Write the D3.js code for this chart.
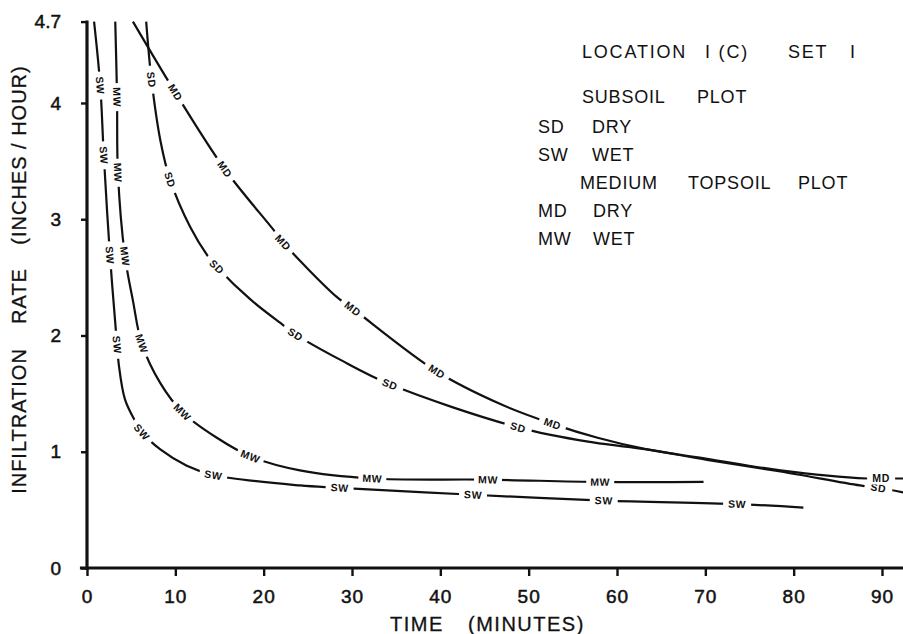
<!DOCTYPE html>
<html>
<head>
<meta charset="utf-8">
<script src="https://cdn.jsdelivr.net/npm/d3@7/dist/d3.min.js"></script>
<style>
  body { margin: 0; background: #fff; }
  svg text { font-family: "Liberation Sans", Arial, sans-serif; fill: #111; }
</style>
</head>
<body>
<script>
// tick values
const xTicks = [0, 10, 20, 30, 40, 50, 60, 70, 80, 90];
const yTicks = [0, 1, 2, 3, 4, 4.7];
const yTickLabels = ['0', '1', '2', '3', '4', '4.7'];

// subsoil wet
const swTime = [0.8, 1.5, 1.9, 2.6, 3.4, 3.6, 4.3, 5.4, 6.2, 8.3, 11.3, 14.3, 24.1, 28.6, 43.7, 58.5, 73.6, 81.1];
const swRate = [4.7, 4.15, 3.55, 2.69, 1.92, 1.75, 1.45, 1.27, 1.17, 1.02, 0.88, 0.80, 0.71, 0.69, 0.63, 0.58, 0.55, 0.52];
const swLabels = [1.5, 1.9, 2.6, 3.4, 6.2, 14.3, 28.6, 43.7, 58.5, 73.6];

// medium topsoil wet
const mwTime = [3.2, 3.4, 3.5, 4.3, 5.2, 6.2, 8.3, 10.8, 14.7, 18.5, 24.1, 32.3, 45.4, 58.1, 69.8];
const mwRate = [4.7, 4.05, 3.4, 2.68, 2.3, 1.93, 1.59, 1.34, 1.12, 0.96, 0.84, 0.77, 0.76, 0.74, 0.74];
const mwLabels = [3.4, 3.5, 4.3, 6.2, 10.8, 18.5, 32.3, 45.4, 58.1];

// subsoil dry
const sdTime = [6.7, 7.3, 8.3, 9.4, 11.7, 13.7, 14.7, 18.5, 22.2, 23.6, 28.7, 34.3, 48.8, 57.3, 63.4, 70.2, 78.5, 87.5, 89.6, 92.4];
const sdRate = [4.7, 4.2, 3.68, 3.34, 2.93, 2.68, 2.59, 2.31, 2.09, 2.01, 1.79, 1.58, 1.21, 1.08, 1.02, 0.93, 0.83, 0.71, 0.69, 0.65];
const sdLabels = [7.3, 9.4, 14.7, 23.6, 34.3, 48.8, 89.6];

// medium topsoil dry
const mdTime = [5.2, 10.0, 15.6, 21.1, 22.2, 28.3, 30.1, 39.6, 46.8, 52.7, 57.8, 63.4, 70.2, 78.5, 88.3, 89.9, 92.4];
const mdRate = [4.7, 4.09, 3.43, 2.91, 2.80, 2.33, 2.23, 1.69, 1.41, 1.24, 1.12, 1.02, 0.94, 0.84, 0.77, 0.77, 0.77];
const mdLabels = [10.0, 15.6, 22.2, 30.1, 39.6, 52.7, 89.9];

const width = 903;
const height = 634;

let svg = d3.select('body').append('svg')
  .attr('width', width)
  .attr('height', height);

const x = d3.scaleLinear().domain([0, 90]).range([87, 882]);
const y = d3.scaleLinear().domain([0, 4.7]).range([568, 21.6]);

const ink = '#111';

// axis lines
svg.append('line')
  .attr('x1', x(-0.8)).attr('x2', width)
  .attr('y1', y(0)).attr('y2', y(0))
  .attr('stroke', ink).attr('stroke-width', 3.2);
svg.append('line')
  .attr('x1', x(0)).attr('x2', x(0))
  .attr('y1', y(4.7) - 1).attr('y2', y(0) + 2)
  .attr('stroke', ink).attr('stroke-width', 3.2);

// x ticks
let xAxis = svg.append('g')
  .attr('transform', `translate(0,${y(0)})`)
  .call(d3.axisBottom(x).tickValues(xTicks).tickSize(8).tickSizeOuter(0).tickPadding(14));
xAxis.select('.domain').remove();
xAxis.selectAll('.tick line').attr('stroke', ink).attr('stroke-width', 2.4);
xAxis.selectAll('.tick text')
  .style('font-size', '19px').style('font-family', '"Liberation Sans", Arial, sans-serif')
  .style('letter-spacing', '1px')
  .attr('fill', ink).attr('stroke', ink).attr('stroke-width', 0.5)
  .attr('dy', '0.71em');

// y ticks
let yAxis = svg.append('g')
  .attr('transform', `translate(${x(0)},0)`)
  .call(d3.axisLeft(y).tickValues(yTicks).tickSize(6).tickSizeOuter(0).tickPadding(20)
    .tickFormat((d, i) => yTickLabels[i]));
yAxis.select('.domain').remove();
yAxis.selectAll('.tick line').attr('stroke', ink).attr('stroke-width', 2.4);
yAxis.selectAll('.tick text')
  .style('font-size', '19px').style('font-family', '"Liberation Sans", Arial, sans-serif')
  .attr('fill', ink).attr('stroke', ink).attr('stroke-width', 0.5);

// axis titles
svg.append('text').attr('x', 390).attr('y', 631)
  .style('font-size', '20px').style('letter-spacing', '1.5px')
  .attr('stroke', ink).attr('stroke-width', 0.3).text('TIME');
svg.append('text').attr('x', 468).attr('y', 631)
  .style('font-size', '20px').style('letter-spacing', '1.5px')
  .attr('stroke', ink).attr('stroke-width', 0.3).text('(MINUTES)');

const yTitle = [
  ['INFILTRATION', 421],
  ['RATE', 296],
  ['(INCHES / HOUR)', 155]
];
yTitle.forEach(([t, cy]) => {
  svg.append('text')
    .attr('transform', `translate(26,${cy}) rotate(-90)`)
    .attr('text-anchor', 'middle')
    .style('font-size', '20px').style('letter-spacing', '1px')
    .attr('stroke', ink).attr('stroke-width', 0.3)
    .text(t);
});

// curves
const series = [
  { name: 'SW', time: swTime, rate: swRate, labels: swLabels },
  { name: 'MW', time: mwTime, rate: mwRate, labels: mwLabels },
  { name: 'SD', time: sdTime, rate: sdRate, labels: sdLabels },
  { name: 'MD', time: mdTime, rate: mdRate, labels: mdLabels }
];

const line = d3.line()
  .x(d => x(d[0]))
  .y(d => y(d[1]))
  .curve(d3.curveCatmullRom.alpha(0.5));

series.forEach(s => {
  const pts = s.time.map((t, i) => [t, s.rate[i]]);
  svg.append('path')
    .datum(pts)
    .attr('d', line)
    .attr('fill', 'none')
    .attr('stroke', ink)
    .attr('stroke-width', 2.2);
});

// inline curve labels, with a gap cut in the line
series.forEach(s => {
  s.labels.forEach(t => {
    const i = s.time.indexOf(t);
    const a = Math.max(0, i - 1), b = Math.min(s.time.length - 1, i + 1);
    const dx = x(s.time[b]) - x(s.time[a]);
    const dy = y(s.rate[b]) - y(s.rate[a]);
    const ang = Math.atan2(dy, dx) * 180 / Math.PI;
    const g = svg.append('g')
      .attr('transform', `translate(${x(t)},${y(s.rate[i])}) rotate(${ang})`);
    g.append('rect')
      .attr('x', -14).attr('y', -6).attr('width', 28).attr('height', 12)
      .attr('fill', '#fff');
    g.append('text')
      .attr('text-anchor', 'middle')
      .attr('dy', '0.36em')
      .style('font-size', '10.5px').style('font-weight', 'bold')
      .style('letter-spacing', '0.6px')
      .text(s.name);
  });
});

// legend block
const legendRows = [
  [['LOCATION', 582], ['I (C)', 705], ['SET', 788], ['I', 850], 58, 1.8],
  [['SUBSOIL', 582], ['PLOT', 697], 103, 0.8],
  [['SD', 538], ['DRY', 592], 133, 0.8],
  [['SW', 538], ['WET', 592], 161, 0.8],
  [['MEDIUM', 580], ['TOPSOIL', 688], ['PLOT', 798], 189, 0.8],
  [['MD', 538], ['DRY', 593], 217, 0.8],
  [['MW', 538], ['WET', 593], 245, 0.8]
];
legendRows.forEach(row => {
  const yy = row[row.length - 2];
  const ls = row[row.length - 1];
  row.slice(0, -2).forEach(([t, xx]) => {
    svg.append('text').attr('x', xx).attr('y', yy)
      .style('font-size', '18px').style('letter-spacing', ls + 'px')
      .text(t);
  });
});
</script>
</body>
</html>
